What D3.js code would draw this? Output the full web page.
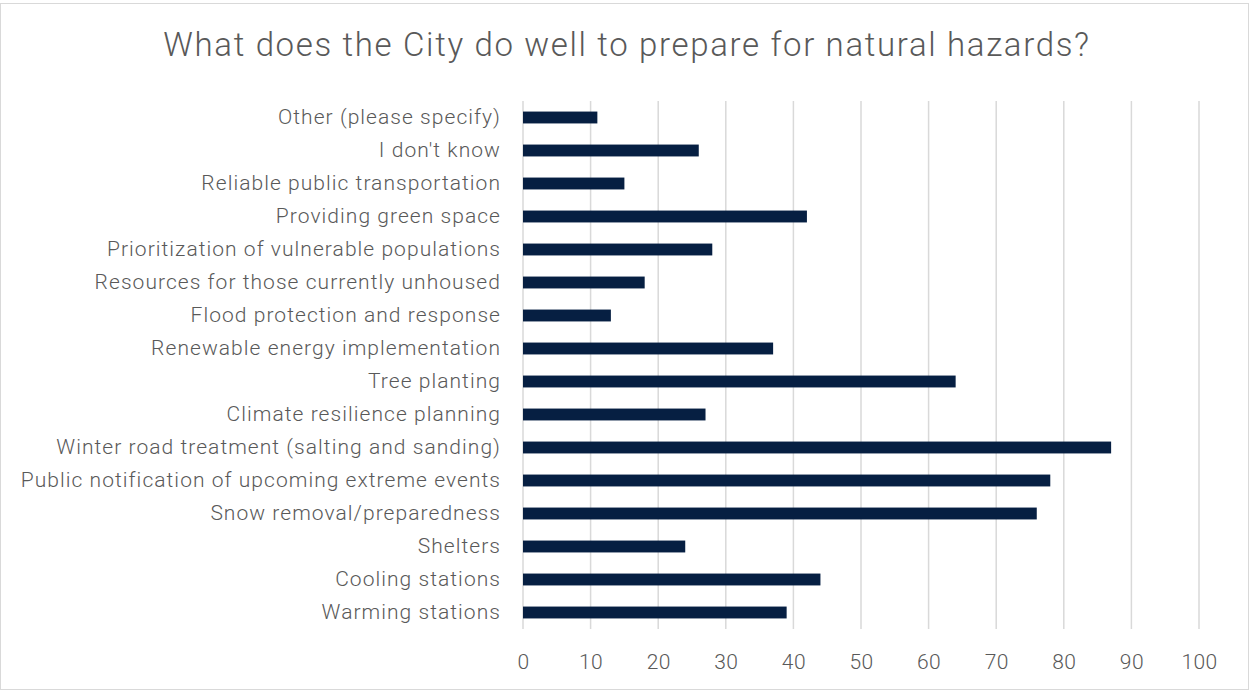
<!DOCTYPE html>
<html><head><meta charset="utf-8">
<script src="https://cdn.jsdelivr.net/npm/d3@7"></script>
<style>body{margin:0;background:#fff;} svg{display:block;}</style>
</head><body>
<svg id="chart" width="1249" height="690"></svg>
<script>
const categories = [
  "Other (please specify)",
  "I don't know",
  "Reliable public transportation",
  "Providing green space",
  "Prioritization of vulnerable populations",
  "Resources for those currently unhoused",
  "Flood protection and response",
  "Renewable energy implementation",
  "Tree planting",
  "Climate resilience planning",
  "Winter road treatment (salting and sanding)",
  "Public notification of upcoming extreme events",
  "Snow removal/preparedness",
  "Shelters",
  "Cooling stations",
  "Warming stations"
];
const values = [11, 26, 15, 42, 28, 18, 13, 37, 64, 27, 87, 78, 76, 24, 44, 39];
const xTicks = [0, 10, 20, 30, 40, 50, 60, 70, 80, 90, 100];
const chartTitle = "What does the City do well to prepare for natural hazards?";

(function(){
const svg = d3.select("#chart");
const W = 1249, H = 690;
const font = "Roboto, 'Liberation Sans', sans-serif";

svg.append("rect").attr("x",0.5).attr("y",3.5).attr("width",W-1).attr("height",H-4)
  .attr("fill","#fff").attr("stroke","#d9d9d9");

const pl = 523, pr = 1199, pt = 101, pb = 629;
const x = d3.scaleLinear().domain([0,100]).range([pl,pr]);
const y = d3.scaleBand().domain(categories).range([pt,pb]).paddingInner(0.64).paddingOuter(0.32);

svg.append("g").selectAll("line").data(xTicks).join("line")
  .attr("x1",d=>x(d)).attr("x2",d=>x(d)).attr("y1",pt).attr("y2",pb)
  .attr("stroke","#d9d9d9").attr("stroke-width",1.5);

svg.append("g").selectAll("rect").data(values).join("rect")
  .attr("x",x(0)).attr("y",(d,i)=>y(categories[i]))
  .attr("width",d=>x(d)-x(0)).attr("height",y.bandwidth())
  .attr("fill","#061f42");

const gy = svg.append("g").attr("transform",`translate(${pl},0)`).call(d3.axisLeft(y).tickSize(0).tickPadding(22));
gy.select(".domain").remove();
gy.selectAll("text").attr("font-family",font).attr("font-size",21).attr("font-weight",300)
  .attr("letter-spacing",1.05).attr("fill","#595959");

const gx = svg.append("g").attr("transform",`translate(0,${pb})`).call(d3.axisBottom(x).tickValues(xTicks).tickSize(0).tickPadding(25));
gx.select(".domain").remove();
gx.selectAll("text").attr("font-family",font).attr("font-size",21).attr("font-weight",300)
  .attr("letter-spacing",0.4).attr("fill","#595959");

svg.append("text").attr("x",627).attr("y",56).attr("text-anchor","middle")
  .attr("font-family",font).attr("font-size",33).attr("font-weight",300)
  .attr("letter-spacing",1.65).attr("fill","#595959")
  .text(chartTitle);
})();
</script>
</body></html>
